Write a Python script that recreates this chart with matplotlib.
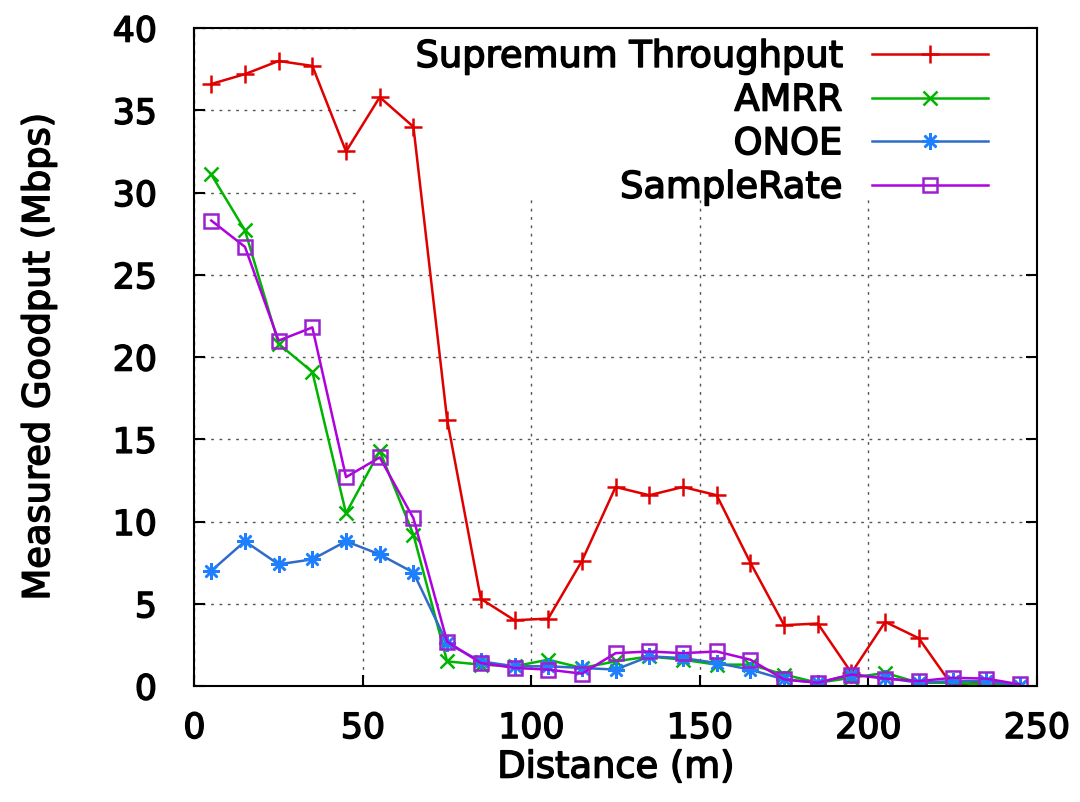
import matplotlib.pyplot as plt
import matplotlib.patheffects as pe
from matplotlib.patches import Rectangle

# distance (m) and goodput (Mbps) per scheme
distance = [5, 15, 25, 35, 45, 55, 65, 75, 85, 95, 105, 115, 125,
            135, 145, 155, 165, 175, 185, 195, 205, 215, 225, 235, 245]
supremum = [36.6, 37.2, 38.0, 37.7, 32.5, 35.8, 34.0, 16.2, 5.3, 4.0, 4.1, 7.6, 12.1,
            11.6, 12.1, 11.6, 7.5, 3.7, 3.8, 0.8, 3.9, 2.9, 0.0, 0.3, 0.0]
amrr = [31.1, 27.7, 20.8, 19.1, 10.5, 14.3, 9.2, 1.5, 1.3, 1.2, 1.6, 1.1, 1.5,
        1.8, 1.6, 1.3, 1.3, 0.7, 0.2, 0.5, 0.8, 0.2, 0.2, 0.1, 0.0]
onoe = [7.0, 8.8, 7.4, 7.7, 8.8, 8.0, 6.9, 2.6, 1.5, 1.2, 1.2, 1.1, 1.0,
        1.8, 1.7, 1.4, 1.0, 0.4, 0.2, 0.7, 0.5, 0.2, 0.3, 0.3, 0.0]
samplerate = [28.3, 26.7, 21.0, 21.8, 12.7, 13.9, 10.2, 2.7, 1.4, 1.1, 1.0, 0.75, 2.0,
              2.1, 2.0, 2.1, 1.6, 0.4, 0.2, 0.7, 0.45, 0.3, 0.5, 0.45, 0.1]

labels = ['Supremum Throughput', 'AMRR', 'ONOE', 'SampleRate']

FS = 25
LFS = 26.5
heavy = [pe.withStroke(linewidth=1.1, foreground='black')]

fig = plt.figure(figsize=(10.8, 8.02), dpi=100)
ax = fig.add_subplot(111)
fig.subplots_adjust(left=0.180, right=0.960, top=0.965, bottom=0.1446)

ax.plot(distance, supremum, color='#e00000', lw=1.8, marker='+', ms=13, mew=1.8,
        label=labels[0], zorder=2)
ax.plot(distance, amrr, color='#00b400', lw=1.8, marker='x', ms=10, mew=1.8,
        label=labels[1], zorder=2.1)
ax.plot(distance, onoe, color='#2f6cc8', lw=1.8, marker=(8, 2, 0), ms=12, mew=1.8,
        mfc='#1e80ff', mec='#1e80ff', label=labels[2], zorder=2.2)
ax.plot(distance, samplerate, color='#b000e0', lw=1.8, marker='s', ms=10, mew=1.8,
        mfc='none', mec='#9a20d0', label=labels[3], zorder=2.3)

# white key box hides the grid like gnuplot's opaque key
ax.add_patch(Rectangle((0.193, 0.739), 0.807, 0.261, transform=ax.transAxes,
                       facecolor='white', edgecolor='none', zorder=1))

ax.set_xlim(0, 250)
ax.set_ylim(0, 40)
ax.set_xticks(range(0, 251, 50))
ax.set_yticks(range(0, 41, 5))
ax.set_axisbelow(True)
ax.grid(True, color='#555555', lw=1, linestyle=(0, (2, 4)))

ax.tick_params(axis='both', direction='in', length=8, width=1.5,
               top=True, right=True, labelsize=FS)
ax.tick_params(axis='y', pad=27)
ax.tick_params(axis='x', pad=18)
for s in ax.spines.values():
    s.set_linewidth(1.5)

ax.set_xlabel('Distance (m)', fontsize=LFS)
ax.set_ylabel('Measured Goodput (Mbps)', fontsize=LFS)
ax.yaxis.set_label_coords(-0.163, 0.5)
ax.xaxis.set_label_coords(0.5, -0.095)

leg = ax.legend(loc='upper right', bbox_to_anchor=(0.942, 0.985), fontsize=LFS,
                frameon=False, markerfirst=False, borderpad=0, borderaxespad=0,
                handlelength=3.15, handletextpad=0.8, labelspacing=0.18)

for t in ax.get_xticklabels() + ax.get_yticklabels() + leg.get_texts():
    t.set_path_effects(heavy)
ax.xaxis.label.set_path_effects(heavy)
ax.yaxis.label.set_path_effects(heavy)

fig.savefig('out.png', dpi=100)
